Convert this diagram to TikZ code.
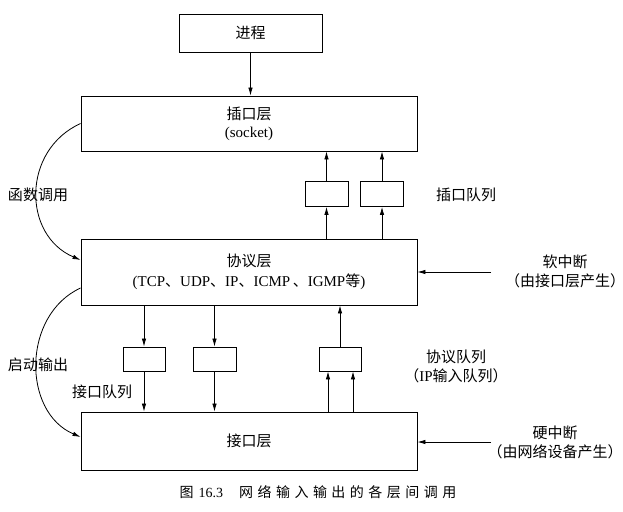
\documentclass[tikz,border=0pt]{standalone}
\usepackage{fontspec}
\setmainfont{Liberation Serif}
\newfontfamily\cjk{Noto Sans CJK SC}
\newfontfamily\cjkcap[LetterSpace=32]{Noto Sans CJK SC}
\usetikzlibrary{arrows.meta}
\newcommand\zh[1]{{\cjk #1}}
\begin{document}
\begin{tikzpicture}[x=1pt,y=-1pt,
  box/.style={draw, line width=0.9pt, inner sep=0pt, align=center,
    font=\fontsize{15}{19}\selectfont},
  sq/.style={draw, line width=0.9pt, inner sep=0pt, minimum width=43pt, minimum height=25pt},
  lbl/.style={font=\fontsize{15}{19}\selectfont, inner sep=0pt, align=center},
  arr/.style={line width=0.8pt, -{Latex[length=8pt,width=4.5pt]}},
]
\useasboundingbox (0,0) rectangle (623,511);
% main boxes
\node[box, minimum width=143pt, minimum height=38pt] (proc) at (250.5,33) {\zh{进程}};
\node[box, minimum width=336pt, minimum height=55pt] (sock) at (249,123.5)
  {\zh{插口层}\\[-1pt](socket)};
\node[box, minimum width=336pt, minimum height=66pt] (proto) at (249,272)
  {\zh{协议层}\\[1pt](TCP\zh{、}UDP\zh{、}IP\zh{、}ICMP\,\zh{、}IGMP\zh{等})};
\node[box, minimum width=336pt, minimum height=58pt] (iface) at (249,441) {\raisebox{-2pt}{\zh{接口层}}};
% small queue boxes
\node[sq] (sq1) at (326.5,194) {};
\node[sq] (sq2) at (382,194) {};
\node[sq, minimum width=42pt, minimum height=24pt] (iq1) at (144,359) {};
\node[sq, minimum width=43pt, minimum height=24pt] (iq2) at (214.5,359) {};
\node[sq, minimum width=42pt, minimum height=24pt] (iq3) at (340,359) {};
% labels
\node[lbl] (l1) at (38,195) {\zh{函数调用}};
\node[lbl] (l2) at (466,195) {\zh{插口队列}};
\node[lbl] (l3) at (565,271) {\zh{软中断}\\\zh{（由接口层产生）}};
\node[lbl] (l4) at (456,366) {\zh{协议队列}\\\zh{（}IP\zh{输入队列）}};
\node[lbl] (l5) at (102,392) {\zh{接口队列}};
\node[lbl] (l6) at (38,365) {\zh{启动输出}};
\node[lbl] (l7) at (555,442) {\zh{硬中断}\\\zh{（由网络设备产生）}};
\node[inner sep=0pt, font=\fontsize{14}{16}\selectfont] (cap) at (318,492)
  {\zh{图}\hspace{5pt}16.3\hspace{16pt}{\cjkcap 网络输入输出的各层间调用}};
\coordinate (soft) at (491,272);
\coordinate (hard) at (491,442);
% arrows
\draw[arr] (proc.south) -- (proc.south |- sock.north);
\draw[arr] (sq1.south |- proto.north) -- (sq1.south);
\draw[arr] (sq1.north) -- (sq1.north |- sock.south);
\draw[arr] (sq2.south |- proto.north) -- (sq2.south);
\draw[arr] (sq2.north) -- (sq2.north |- sock.south);
\draw[arr] (iq1.north |- proto.south) -- (iq1.north);
\draw[arr] (iq1.south) -- (iq1.south |- iface.north);
\draw[arr] (iq2.north |- proto.south) -- (iq2.north);
\draw[arr] (iq2.south) -- (iq2.south |- iface.north);
\draw[arr] ([xshift=-12pt]iq3.south |- iface.north) -- ([xshift=-12pt]iq3.south);
\draw[arr] ([xshift=13pt]iq3.south |- iface.north) -- ([xshift=13pt]iq3.south);
\draw[arr] (iq3.north) -- (iq3.north |- proto.south);
\draw[arr] (soft) -- (soft -| proto.east);
\draw[arr] (hard) -- (hard -| iface.east);
% curved calls
\draw[arr] (sock.west) .. controls (22,150) and (22,235) .. ([yshift=12pt]proto.west);
\draw[arr] ([yshift=-16pt]proto.west) .. controls (22,315) and (22,412) .. ([yshift=4pt]iface.west);
\end{tikzpicture}
\end{document}
